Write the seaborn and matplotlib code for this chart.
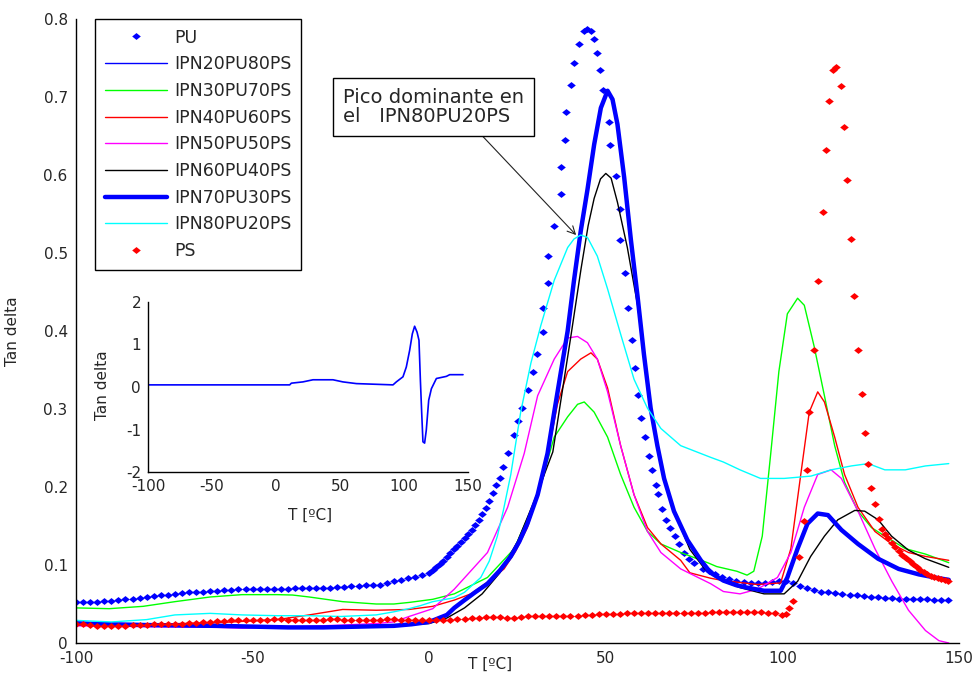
import numpy as np
import pandas as pd
import matplotlib
matplotlib.use("Agg")
import matplotlib.pyplot as plt
import seaborn as sns

# ---------------- data ----------------
pu_t = [-100, -98, -96, -94, -92, -90, -88, -86, -84, -82, -80, -78, -76, -74, -72, -70, -68, -66, -64, -62,
        -60, -58, -56, -54, -52, -50, -48, -46, -44, -42, -40, -38, -36, -34, -32, -30, -28, -26, -24, -22,
        -20, -18, -16, -14, -12, -10, -8, -6, -4, -2,
        0, 1, 2, 3, 4, 5, 6, 7, 8, 9, 10, 11, 12, 13, 14, 15, 16, 17, 18, 19, 20, 21,
        22.4, 24.1, 25.2, 26.4, 28.0, 29.4, 30.5, 32.1, 32.3, 33.5, 33.7, 35.2, 37.3, 37.3, 38.5, 38.7, 40.1,
        41.0, 42.5, 43.9, 44.8, 45.9, 46.7, 47.5, 48.4, 49.1, 50.9, 51.2, 52.8, 54.1, 54.1, 55.4, 56.3, 57.3,
        58.2, 59.2, 60.1, 61.0, 62.3, 63.2, 64.2, 64.8, 66.0, 67.0, 68.2, 69.5, 70.8, 72.2, 73.6, 75.0, 77.4, 79.2,
        81, 83, 85, 87, 89, 91, 93, 95, 97, 99, 101, 103, 105, 107, 109, 111, 113, 115, 117, 119,
        121, 123, 125, 127, 129, 131, 133, 135, 137, 139, 141, 143, 145, 147]
pu_v = [.052, .052, .053, .053, .054, .054, .055, .056, .057, .058, .059, .060, .061, .062, .063, .064, .065, .066, .066, .067,
        .067, .068, .068, .069, .069, .069, .069, .069, .069, .069, .069, .070, .070, .070, .071, .071, .071, .072, .072, .073,
        .073, .074, .074, .075, .077, .079, .081, .083, .085, .087,
        .090, .093, .097, .101, .105, .110, .115, .120, .125, .130, .135, .140, .145, .151, .158, .165, .173, .182, .192, .202, .212, .226,
        .243, .267, .285, .301, .325, .348, .371, .399, .429, .462, .496, .534, .576, .610, .645, .681, .715,
        .743, .768, .784, .787, .784, .774, .756, .735, .709, .668, .639, .599, .557, .517, .475, .429, .388,
        .352, .318, .288, .264, .240, .222, .202, .191, .172, .158, .148, .137, .127, .116, .108, .103, .095, .092,
        .088, .085, .082, .080, .078, .077, .077, .077, .078, .079, .079, .077, .073, .070, .068, .066, .065, .064, .063, .062,
        .061, .060, .059, .059, .058, .058, .057, .057, .056, .056, .056, .055, .055, .055]

ps_t = [-100, -98, -96, -94, -92, -90, -88, -86, -84, -82, -80, -78, -76, -74, -72, -70, -68, -66, -64, -62,
        -60, -58, -56, -54, -52, -50, -48, -46, -44, -42, -40, -38, -36, -34, -32, -30, -28, -26, -24, -22,
        -20, -18, -16, -14, -12, -10, -8, -6, -4, -2, 0, 2, 4, 6, 8, 10, 12, 14, 16, 18,
        20, 22, 24, 26, 28, 30, 32, 34, 36, 38, 40, 42, 44, 46, 48, 50, 52, 54, 56, 58,
        60, 62, 64, 66, 68, 70, 72, 74, 76, 78, 80, 82, 84, 86, 88, 90, 92, 94, 96, 98, 100,
        101, 102, 102.9, 104.8, 106.0, 107.0, 107.6, 109.0, 110.0, 111.4, 112.4, 113.3, 114.3, 115.2, 116.5,
        117.4, 118.3, 119.5, 120.4, 121.4, 122.4, 123.3, 124.3, 125.2, 126.2, 127.3, 128.3,
        129, 130, 131, 132, 133, 134, 135, 136, 137, 138, 139, 140, 141, 142, 143, 144, 145, 146, 147]
ps_v = [.025, .024, .023, .022, .022, .022, .022, .022, .023, .023, .023, .024, .024, .025, .025, .025, .026, .026, .027, .027,
        .028, .028, .029, .030, .030, .030, .030, .030, .031, .031, .030, .030, .030, .030, .030, .030, .031, .031, .030, .030,
        .030, .030, .030, .030, .031, .031, .030, .029, .029, .029, .029, .029, .030, .030, .031, .031, .032, .032, .033, .033,
        .033, .032, .032, .033, .034, .034, .034, .035, .035, .035, .035, .035, .036, .036, .037, .037, .037, .037, .038, .038,
        .038, .038, .038, .038, .038, .038, .038, .038, .039, .039, .040, .040, .040, .040, .040, .040, .040, .040, .039, .038, .036,
        .037, .045, .054, .110, .157, .222, .296, .376, .464, .552, .632, .695, .734, .739, .714,
        .662, .593, .518, .445, .376, .319, .269, .230, .199, .178, .159, .146,
        .140, .134, .128, .123, .118, .113, .109, .105, .101, .097, .094, .091, .088, .086, .084, .083, .082, .081, .080]

ipn70_t = [-100, -80, -60, -40, -30, -20, -10, -5, 0, 5, 7.1, 10, 13, 16.5, 20, 23.1, 25.5, 27.8, 30.7, 33.5, 35.4,
           37.3, 39.2, 41, 42.9, 44.8, 46.7, 48.6, 50.5, 51.9, 53.3, 55.2, 57.1, 59, 60.8, 62.7, 64.6, 66.5, 69.3,
           73.1, 76.9, 79.7, 83.3, 87, 90, 94.8, 99.5, 101.4, 104.3, 107.1, 110, 112.9, 116.7, 121.4, 127.1,
           132.9, 138.6, 144.3, 147.1]
ipn70_v = [.025, .023, .022, .020, .020, .021, .022, .024, .027, .036, .045, .055, .065, .076, .093, .111, .130, .153, .190, .243, .296,
           .348, .400, .465, .528, .581, .639, .686, .708, .697, .665, .597, .517, .444, .370, .301, .253, .211, .169,
           .132, .106, .090, .080, .074, .071, .067, .067, .084, .121, .153, .166, .164, .145, .127, .108,
           .095, .088, .083, .081]

ipn20_t = ipn70_t
ipn20_v = [.027, .023, .022, .021, .020, .021, .022, .024, .027, .036, .045, .055, .065, .076, .093, .111, .130, .153, .190, .243, .296,
           .348, .400, .465, .528, .581, .639, .686, .706, .695, .663, .597, .517, .444, .370, .301, .253, .211, .169,
           .132, .106, .090, .080, .074, .071, .067, .067, .084, .121, .153, .166, .164, .145, .127, .108,
           .095, .088, .083, .081]

ipn60_t = [-100, -80, -60, -40, -30, -20, -10, 0, 5, 10, 15, 20, 25, 30, 35, 40, 43, 45, 46.7, 48.5, 50, 51.5, 53.3,
           56.1, 59, 60.8, 62.7, 64.6, 66.5, 69.3, 73.8, 78, 83.3, 88, 94.8, 100.5, 104.3, 108, 111.9, 115.7,
           120.5, 123.3, 127.1, 130.9, 135.7, 140.5, 147.1]
ipn60_v = [.024, .022, .021, .020, .019, .020, .022, .025, .032, .045, .063, .090, .130, .185, .245, .390, .480, .535, .570, .595, .602, .596, .565,
           .507, .433, .370, .301, .253, .211, .169, .120, .095, .079, .071, .063, .063, .079, .111, .137, .158,
           .170, .169, .158, .137, .119, .108, .097]

ipn80_t = [-100, -90, -80, -72, -62, -53, -43, -34, -25, -15, -10, -5.7, -2.4, 1, 7.1, 10, 14.6, 17, 19.3, 21, 23.1,
           25.9, 28.8, 31.6, 35.4, 39.2, 41, 42.9, 44.8, 47.6, 50.5, 54.2, 58, 61.8, 65.6, 71.2, 79.7, 83.3, 88,
           93.8, 100.5, 108.1, 113.8, 119.5, 124.3, 129, 134.8, 140.5, 147.1]
ipn80_v = [.029, .027, .030, .036, .038, .036, .035, .035, .034, .036, .040, .044, .048, .053, .058, .065, .084, .105, .137, .170, .216,
           .296, .359, .407, .465, .507, .518, .523, .520, .496, .454, .396, .338, .301, .275, .253, .238, .232, .222,
           .211, .211, .214, .222, .227, .230, .222, .222, .227, .230]

ipn30_t = [-100, -90.6, -81, -72, -62, -53, -43, -38.7, -34, -24.5, -15, -10, -5.7, 1, 7.1, 16.5, 24.1, 30.7, 35.4, 39.2,
           42, 43.9, 46.7, 50.5, 54.2, 58, 61.8, 65.6, 71.2, 78.8, 81.4, 87.1, 90, 91.9, 94.3, 96.7, 99, 101.4, 104.3,
           106.2, 109, 111.9, 114.8, 117.6, 121.4, 125.2, 129, 134.8, 140.5, 147.1]
ipn30_v = [.045, .044, .047, .053, .059, .062, .062, .0615, .059, .053, .050, .050, .052, .056, .063, .084, .121, .190, .264, .290,
           .306, .309, .296, .264, .216, .174, .143, .127, .116, .103, .098, .092, .087, .092, .137, .243, .348, .422, .442,
           .433, .380, .317, .253, .206, .169, .148, .137, .121, .114, .103]

ipn40_t = [-100, -80, -60, -43, -34, -24.5, -15, -5.7, 1, 7.1, 11.8, 16.5, 21.2, 24.5, 27.8, 32.5, 36.3, 39.2, 42.9,
           45.8, 47.6, 50.5, 54.2, 58, 61.8, 65.6, 71.2, 73.8, 79.7, 83.3, 92.9, 99.5, 102.4, 105.2, 107.6, 110,
           111.9, 114.8, 117.6, 121.4, 126.2, 130.9, 135.7, 140.5, 147.1]
ipn40_v = [.025, .024, .026, .030, .036, .043, .042, .043, .047, .055, .063, .078, .095, .118, .148, .216, .306, .348, .364,
           .372, .364, .327, .253, .190, .148, .127, .106, .090, .083, .080, .075, .077, .121, .216, .296, .322,
           .309, .264, .216, .174, .143, .127, .116, .111, .106]

ipn50_t = [-100, -80, -60, -53, -43, -24.5, -15, -10, -5.7, 1, 7.1, 16.5, 22.2, 26.9, 30.7, 35.4, 39.2, 42, 44.8,
           47.6, 50.5, 54.2, 58, 61.8, 65.6, 71.2, 79.7, 83.3, 88, 92.9, 98.6, 102.4, 106.2, 110, 113.8, 116.7,
           121.4, 126.2, 131, 135.7, 140.5, 144.3, 147.1]
ipn50_v = [.022, .021, .020, .019, .020, .023, .025, .027, .034, .044, .069, .116, .174, .243, .317, .364, .391, .393, .385,
           .364, .322, .253, .190, .143, .116, .095, .076, .066, .063, .069, .084, .116, .174, .216, .222, .211,
           .169, .121, .079, .042, .016, .003, .0]

inset_t = [-100, 10.7, 12, 21, 28.9, 44.5, 52.3, 62.8, 91.4, 94, 99.2, 101.8, 104.4, 106.5, 108.3, 110.2, 111.7,
           112.8, 113.8, 114.8, 116.1, 117.4, 119.3, 121.4, 125.3, 133.1, 135.7, 146.1]
inset_v = [.05, .05, .09, .12, .17, .17, .12, .08, .05, .12, .24, .47, .86, 1.25, 1.43, 1.29, 1.10,
           .16, -.59, -1.29, -1.32, -1.02, -.31, -.04, .20, .25, .29, .29]

x_ticks = [-100, -50, 0, 50, 100, 150]
y_ticks = [0, 0.1, 0.2, 0.3, 0.4, 0.5, 0.6, 0.7, 0.8]
y_tick_labels = ["0", "0.1", "0.2", "0.3", "0.4", "0.5", "0.6", "0.7", "0.8"]
inset_y_ticks = [-2, -1, 0, 1, 2]

# ---------------- style ----------------
sns.set_style("white")
plt.rcParams["font.family"] = ["DejaVu Sans"]
plt.rcParams["xtick.direction"] = "in"
plt.rcParams["ytick.direction"] = "in"

fig = plt.figure(figsize=(9.77, 6.80), dpi=100)
ax = fig.add_axes([76 / 977, 37 / 680, 883 / 977, 624 / 680])

diamond = [(-1, 0), (0, 0.8), (1, 0), (0, -0.8), (-1, 0)]

def draw(t, v, **kw):
    df = pd.DataFrame({"T": t, "v": v})
    sns.lineplot(data=df, x="T", y="v", ax=ax, estimator=None, sort=False, **kw)

draw(pu_t, pu_v, color="#0000FF", marker=diamond, markersize=6.2, markeredgewidth=0,
     linestyle="none", label="PU")
draw(ipn20_t, ipn20_v, color="#0000FF", lw=1.0, label="IPN20PU80PS")
draw(ipn30_t, ipn30_v, color="#00FF00", lw=1.0, label="IPN30PU70PS")
draw(ipn40_t, ipn40_v, color="#FF0000", lw=1.0, label="IPN40PU60PS")
draw(ipn50_t, ipn50_v, color="#FF00FF", lw=1.0, label="IPN50PU50PS")
draw(ipn60_t, ipn60_v, color="black", lw=1.0, label="IPN60PU40PS")
draw(ipn70_t, ipn70_v, color="#0000FF", lw=3.2, label="IPN70PU30PS")
draw(ipn80_t, ipn80_v, color="#00FFFF", lw=1.0, label="IPN80PU20PS")
draw(ps_t, ps_v, color="#FF0000", marker=diamond, markersize=6.2, markeredgewidth=0,
     linestyle="none", label="PS")

ax.set_xlim(-100, 150)
ax.set_ylim(0, 0.8)
ax.set_xticks(x_ticks)
ax.set_xticklabels([str(t) for t in x_ticks])
ax.set_yticks(y_ticks)
ax.set_yticklabels(y_tick_labels)
ax.tick_params(axis="both", labelsize=11, length=6, width=1, color="black", direction="in", pad=6)
for s in ["top", "right"]:
    ax.spines[s].set_visible(False)
for s in ["left", "bottom"]:
    ax.spines[s].set_color("black")
    ax.spines[s].set_linewidth(1)

ax.set_xlabel("T [ºC]", fontsize=11)
ax.xaxis.set_label_coords((490 - 76) / 883, -0.022)
ax.xaxis.label.set_va("top")
ax.set_ylabel("Tan delta", fontsize=11)
ax.yaxis.set_label_coords(-0.063, 0.50)

h, l = ax.get_legend_handles_labels()
leg = ax.legend(h, l, loc="upper left", bbox_to_anchor=(19 / 883, 1.0), borderaxespad=0,
                fontsize=12.5, frameon=True, fancybox=False, framealpha=1, edgecolor="black",
                labelspacing=0.5, handlelength=3.6, handletextpad=0.4, borderpad=0.55, numpoints=1)
leg.get_frame().set_linewidth(1)

ax.annotate("Pico dominante en\nel   IPN80PU20PS", xy=(41.6, 0.523), xycoords="data",
            xytext=(343, 680 - 107), textcoords="figure pixels", ha="left", va="center",
            fontsize=14, linespacing=1.05,
            bbox=dict(boxstyle="square,pad=0.5", fc="white", ec="black", lw=1),
            arrowprops=dict(arrowstyle="->", color="#222222", lw=0.8, relpos=(0.72, 0.0),
                            shrinkA=0, shrinkB=0))

# ---------------- inset ----------------
axi = fig.add_axes([148 / 977, (680 - 472) / 680, 320 / 977, 170 / 680])
axi.set_facecolor("white")
sns.lineplot(x=inset_t, y=inset_v, ax=axi, color="#0000FF", lw=1.2, estimator=None, sort=False)
axi.set_xlim(-100, 150)
axi.set_ylim(-2, 2)
axi.set_xticks(x_ticks)
axi.set_xticklabels([str(t) for t in x_ticks])
axi.set_yticks(inset_y_ticks)
axi.set_yticklabels([str(t) for t in inset_y_ticks])
axi.tick_params(axis="both", labelsize=11, length=5, width=1, color="black", direction="in", pad=5)
for s in ["top", "right"]:
    axi.spines[s].set_visible(False)
for s in ["left", "bottom"]:
    axi.spines[s].set_color("black")
    axi.spines[s].set_linewidth(1)
axi.set_xlabel("T [ºC]", fontsize=11)
axi.xaxis.set_label_coords(0.506, -0.21)
axi.xaxis.label.set_va("top")
axi.set_ylabel("Tan delta", fontsize=11)
axi.yaxis.set_label_coords(-0.12, 0.51)

fig.savefig("out.png", dpi=100, facecolor="white")
